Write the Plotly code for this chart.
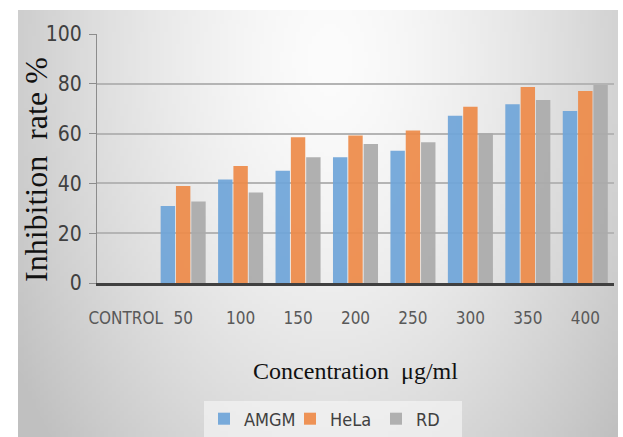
import base64
import struct
import zlib

import numpy as np
import plotly.graph_objects as go

# ---- data ----
categories = ["CONTROL", "50", "100", "150", "200", "250", "300", "350", "400"]
amgm = [0, 30.9, 41.6, 45.1, 50.5, 53.1, 67.2, 71.8, 69.1]
hela = [0, 39.0, 47.0, 58.5, 59.2, 61.2, 70.8, 78.7, 77.1]
rd = [0, 32.7, 36.3, 50.5, 55.8, 56.5, 60.1, 73.5, 79.5]
series_names = ["AMGM", "HeLa", "RD"]
y_ticks = [0, 20, 40, 60, 80, 100]

# ---- layout geometry (pixels) ----
W, H = 623, 437
ML, MR, MT, MB = 97, 9, 34, 154
PW, PH = W - ML - MR, H - MT - MB


def px_to_paper_x(px):
    return (px - ML) / PW


def py_to_paper_y(py):
    return (H - MB - py) / PH


# ---- background gradient image (decoration) ----
FX0, FX1, FY0, FY1 = 18, 618, 10, 437
gw, gh = 150, 107
jj = np.arange(gw)
ii = np.arange(gh)
pxs = FX0 + (jj + 0.5) * (FX1 - FX0) / gw
pys = FY0 + (ii + 0.5) * (FY1 - FY0) / gh
PX, PY = np.meshgrid(pxs, pys)
d = np.sqrt(((PX - 330) / 330) ** 2 + ((PY - 60) / 520) ** 2)
v = np.clip(252 - 50 * d ** 1.5, 192, 252).astype(np.uint8)
arr = np.stack([v, v, v], axis=-1)


def png_bytes(a):
    h, w, _ = a.shape
    raw = b"".join(b"\x00" + a[r].tobytes() for r in range(h))

    def chunk(t, data):
        c = struct.pack(">I", len(data)) + t + data
        return c + struct.pack(">I", zlib.crc32(t + data) & 0xFFFFFFFF)

    return (b"\x89PNG\r\n\x1a\n"
            + chunk(b"IHDR", struct.pack(">IIBBBBB", w, h, 8, 2, 0, 0, 0))
            + chunk(b"IDAT", zlib.compress(raw, 9))
            + chunk(b"IEND", b""))


img_src = "data:image/png;base64," + base64.b64encode(png_bytes(arr)).decode()

NARROW = "DejaVu Sans Condensed, Liberation Sans, sans-serif"
SERIF = "Liberation Serif, Times New Roman, serif"

colors = ["#6fa5d9", "#ee8b49", "#ababab"]

fig = go.Figure()
for name, vals, c in zip(series_names, [amgm, hela, rd], colors):
    fig.add_trace(go.Bar(
        x=categories, y=vals, name=name,
        marker=dict(color=c, line=dict(width=0)),
        opacity=0.92,
    ))

fig.update_layout(
    width=W, height=H,
    margin=dict(l=ML, r=MR, t=MT, b=MB, autoexpand=False),
    paper_bgcolor="white",
    plot_bgcolor="rgba(0,0,0,0)",
    barmode="group",
    bargap=0.2,
    bargroupgap=0.06,
    showlegend=True,
    legend=dict(
        orientation="h",
        x=px_to_paper_x(333), y=py_to_paper_y(419),
        xanchor="center", yanchor="middle",
        bgcolor="rgba(246,246,246,0.65)",
        font=dict(family=NARROW, size=18, color="#404040"),
        itemwidth=30,
        entrywidth=41,
        tracegroupgap=0,
    ),
    images=[dict(
        source=img_src, xref="paper", yref="paper",
        x=px_to_paper_x(FX0), y=py_to_paper_y(FY0),
        sizex=px_to_paper_x(FX1) - px_to_paper_x(FX0),
        sizey=py_to_paper_y(FY0) - py_to_paper_y(FY1),
        xanchor="left", yanchor="top", sizing="stretch", layer="below",
    )],
    annotations=[dict(
        text="Inhibition&#160;&#160;rate %",
        xref="paper", yref="paper",
        x=px_to_paper_x(36), y=py_to_paper_y(170),
        xanchor="center", yanchor="middle",
        textangle=-90, showarrow=False,
        font=dict(family=SERIF, size=32, color="#111111"),
    )],
    xaxis=dict(
        type="category",
        showline=True, linecolor="#404040", linewidth=3,
        showgrid=False, zeroline=False,
        ticks="outside", ticklen=18, tickcolor="rgba(0,0,0,0)",
        tickangle=0,
        tickfont=dict(family=NARROW, size=17, color="#595959"),
        title=dict(text="Concentration&#160;&#160;μg/ml",
                   font=dict(family=SERIF, size=24, color="#111111"),
                   standoff=35),
    ),
    yaxis=dict(
        range=[0, 100], tickvals=y_ticks,
        showline=True, linecolor="#8c8c8c", linewidth=1,
        showgrid=True, gridcolor="#b4b4b4", gridwidth=1.5,
        zeroline=False,
        ticks="outside", ticklen=7, tickcolor="#8c8c8c",
        ticklabelstandoff=3,
        tickfont=dict(family=NARROW, size=21, color="#404040"),
    ),
)

fig.write_html("out.html")
